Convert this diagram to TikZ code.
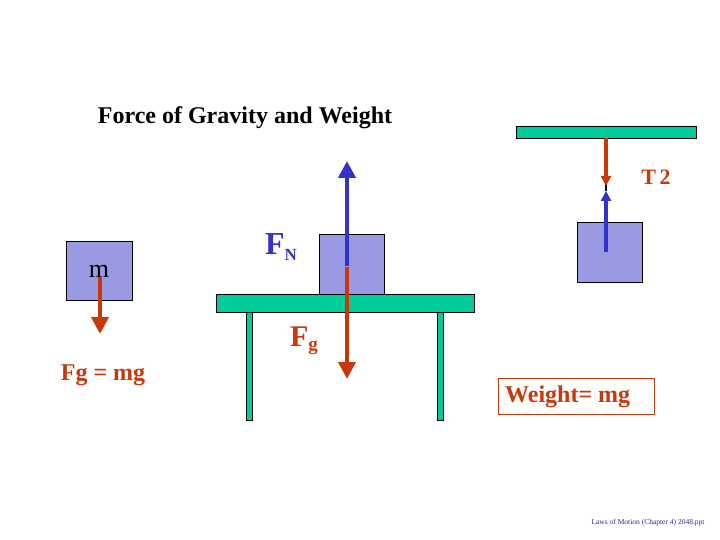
\documentclass[tikz,border=0pt]{standalone}
\usepackage{fontspec}
\setmainfont{Liberation Serif}
\usepackage{tikz}
\usetikzlibrary{arrows.meta}

\definecolor{lav}{RGB}{153,153,228}
\definecolor{teal}{RGB}{0,204,153}
\definecolor{rust}{RGB}{200,56,10}
\definecolor{fblue}{RGB}{51,51,204}
\definecolor{navy}{RGB}{40,40,140}

\begin{document}
\begin{tikzpicture}[x=1pt,y=-1pt,
    block/.style={fill=lav,draw=black,line width=0.8pt},
    board/.style={fill=teal,draw=black,line width=0.8pt},
    force/.style={line width=4.5pt,-{Triangle[width=17pt,length=17pt]}},
    pull/.style={line width=3.5pt,-{Triangle[width=10pt,length=10pt]}},
    lbl/.style={font=\bfseries,text=rust}]
          \useasboundingbox (0,0) rectangle (720,540);

          \node[font=\bfseries\fontsize{24}{28}\selectfont] (title) at (245,118) {Force of Gravity and Weight};

          % Free block
          \draw[block] (66,241) rectangle (132,300);
          \node[font=\fontsize{26}{28}\selectfont] (m) at (99,271) {m};
          \coordinate (mtop) at (100,277);
          \coordinate (mbot) at (100,334);
          \draw[force,rust] (mtop) -- (mbot);
          \node[lbl,font=\bfseries\fontsize{24}{28}\selectfont] (fgmg) at (103,375) {Fg = mg};

          % Table
          \draw[board] (246,312) rectangle (252,420);
          \draw[board] (437,312) rectangle (443,420);
          \draw[board] (216,294) rectangle (474,312);
          \draw[block] (319,234) rectangle (384,294);
          \coordinate (mid) at (347,266);
          \coordinate (up) at (347,161);
          \coordinate (down) at (347,379);
          \draw[force,fblue] (mid) -- (up);
          \draw[force,rust] ([yshift=-0.5pt]mid) -- (down);
          \node[text=fblue,font=\bfseries\fontsize{32}{34}\selectfont] (fn) at (281,247) {F\raisebox{-6pt}{\fontsize{17}{18}\selectfont N}};
          \node[lbl,font=\bfseries\fontsize{30}{32}\selectfont] (fg) at (304,341) {F\raisebox{-4pt}{\fontsize{19}{20}\selectfont g}};

          % Hanging block
          \draw[board] (516,126) rectangle (696,138);
          \draw[block] (577,222) rectangle (642,282);
          \coordinate (hook) at (606,138);
          \coordinate (knot) at (606,191);
          \coordinate (hang) at (606,252);
          \draw[line width=2.5pt] (606,178) -- (knot);
          \draw[pull,rust] (hook) -- (606,186);
          \draw[pull,fblue] (hang) -- (knot);
          \node[lbl,font=\bfseries\fontsize{22}{24}\selectfont] (t2) at (656,177) {T\,2};

          % Weight box
          \draw[draw=rust,line width=0.8pt] (498,378) rectangle (654,414);
          \node[lbl,anchor=west,font=\bfseries\fontsize{24}{28}\selectfont,inner sep=0pt] (weight) at (505,397) {Weight= mg};

          \node[text=navy,font=\fontsize{7.5}{9}\selectfont] (foot) at (648,523) {Laws of Motion (Chapter 4) 2048.ppt};
        \end{tikzpicture}
\end{document}
